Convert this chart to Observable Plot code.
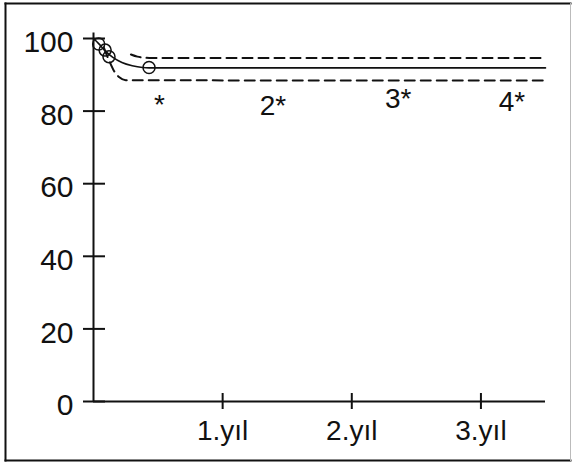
<!DOCTYPE html>
<html><head><meta charset="utf-8">
<script src="https://cdn.jsdelivr.net/npm/d3@7"></script>
<script src="https://cdn.jsdelivr.net/npm/@observablehq/plot@0.6"></script>
<style>body{margin:0;background:#fff}</style>
</head><body><div id="chart"></div>
<script>
const yearTicks = [1, 2, 3];
const yTicks = [0, 20, 40, 60, 80, 100];
const survT = [0, 0.04, 0.09, 0.15, 0.22, 0.3, 0.38, 0.43, 3.5];
const survV = [100, 98.6, 96.6, 94.8, 93.4, 92.5, 92.0, 91.9, 91.9];
const upperT = [0.29, 0.34, 0.4, 0.45, 3.5];
const upperV = [95.6, 95.0, 94.7, 94.6, 94.6];
const lowerT = [0.08, 0.12, 0.16, 0.2, 0.25, 3.5];
const lowerV = [97.5, 94, 91, 89.3, 88.5, 88.4];
const censorT = [0.04, 0.09, 0.12, 0.43];
const censorV = [98.5, 96.8, 95, 92];
const noteText = ["*", "2*", "3*", "4*"];
const noteT = [0.51, 1.39, 2.36, 3.24];
const noteV = [81.8, 81.3, 83.2, 82.4];

const zip = (t, v) => t.map((d, i) => ({t: d, v: v[i]}));
const surv = zip(survT, survV);
const upper = zip(upperT, upperV);
const lower = zip(lowerT, lowerV);
const censor = zip(censorT, censorV);
const notes = noteText.map((s, i) => ({s, t: noteT[i], v: noteV[i]}));

const chart = Plot.plot({
  width: 574,
  height: 464,
  marginLeft: 93,
  marginRight: 29,
  marginTop: 38,
  marginBottom: 63,
  style: {fontFamily: "'Liberation Sans', Arial, Helvetica, sans-serif", background: "#fff", color: "#111"},
  x: {domain: [0, 3.5], axis: null, label: null},
  y: {domain: [0, 100], axis: null, label: null},
  marks: [
    Plot.frame({anchor: "left", insetLeft: -88, insetTop: -35, insetBottom: -59, stroke: "#111", strokeWidth: 2}),
    Plot.frame({anchor: "top", insetLeft: -88, insetRight: -25, insetTop: -35, stroke: "#111", strokeWidth: 2}),
    Plot.frame({anchor: "bottom", insetLeft: -88, insetRight: -25, insetBottom: -59, stroke: "#111", strokeWidth: 2}),
    Plot.frame({anchor: "right", insetRight: -25, insetTop: -35, insetBottom: -59, stroke: "#bbb", strokeWidth: 1}),
    Plot.ruleX([0], {y1: 0, y2: 101.5, stroke: "#111", strokeWidth: 2}),
    Plot.ruleY([0], {stroke: "#111", strokeWidth: 2}),
    Plot.ruleY(yTicks, {x1: 0, x2: 0, insetLeft: -10, insetRight: -12, stroke: "#111", strokeWidth: 2}),
    Plot.ruleX(yearTicks, {y1: 0, y2: 0, insetTop: -8, insetBottom: -8, stroke: "#111", strokeWidth: 2}),
    Plot.axisY(yTicks, {label: null, tickSize: 0, tickPadding: 20, fontSize: 30, dy: 4, fill: "#111"}),
    Plot.axisX(yearTicks, {label: null, tickSize: 0, tickPadding: 19, fontSize: 28, tickFormat: d => `${d}.yıl`, fill: "#111"}),
    Plot.line(upper, {x: "t", y: "v", curve: "monotone-x", stroke: "#111", strokeWidth: 2, strokeDasharray: "10,6"}),
    Plot.line(lower, {x: "t", y: "v", curve: "monotone-x", stroke: "#111", strokeWidth: 2, strokeDasharray: "10,6"}),
    Plot.line(surv, {x: "t", y: "v", curve: "monotone-x", stroke: "#111", strokeWidth: 1.6}),
    Plot.dot(censor, {x: "t", y: "v", r: 6, stroke: "#111", strokeWidth: 1.5, fill: "none"}),
    Plot.text(notes, {x: "t", y: "v", text: "s", fontSize: 28, fill: "#111", textAnchor: "middle"})
  ]
});
document.getElementById("chart").appendChild(chart);
</script>
</body></html>
